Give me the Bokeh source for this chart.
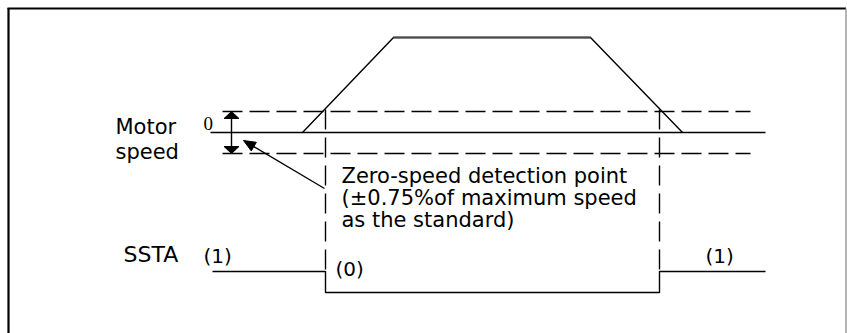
import math
from bokeh.plotting import figure
from bokeh.models import Range1d
from bokeh.core.properties import value
from bokeh.embed import file_html
from bokeh.resources import INLINE

# ---- diagram data (time axis -> x, level -> y, in page pixels) ----
speed_t = [302, 393, 590, 682]          # motor speed trapezoid
speed_v = [132, 37, 37, 132]
zero_x = [210, 765]                     # zero-speed solid line
zero_level = 132
band_x = [222, 750]                     # +/- detection band (dashed)
band_upper = 111
band_lower = 153
detect_t = [325, 659]                   # detection instants (dashed verticals)
detect_y = [109, 271]
ssta_t = [212, 325, 325, 659, 659, 765] # SSTA signal
ssta_v = [271, 271, 292, 292, 271, 271]
band_arrow_x = 231
pointer_tip = (243, 140)
pointer_tail = (324, 188)

big_text = ["Motor", "speed", "SSTA"]
big_x = [115, 115, 123]
big_y = [126, 151, 254]
paren_text = ["(1)", "(0)", "(1)"]
paren_x = [203, 335, 705]
paren_y = [255, 268, 255]
note_text = ["Zero-speed detection point", "(±0.75%of maximum speed", "as the standard)"]
note_x = [341, 341, 341]
note_y = [175, 197, 219]
zero_label = ["0"]
zero_label_x = [203]
zero_label_y = [123]

W, H = 847, 333
p = figure(width=W, height=H, x_range=Range1d(0, W), y_range=Range1d(H, 0),
           output_backend="svg", toolbar_location=None,
           x_axis_type=None, y_axis_type=None, min_border=0)
p.outline_line_color = None
p.grid.visible = False
p.background_fill_color = "white"
p.border_fill_color = "white"

# frame
p.line([8, 8], [H, 7.5], line_color="black", line_width=2.2)
p.line([7, 845.5], [8, 8], line_color="black", line_width=2.2)
p.line([845.5, 845.5], [8, H], line_color="#9a9a9a", line_width=1.5)

LW = 1.4
# zero line
p.line(zero_x, [zero_level, zero_level], line_color="black", line_width=LW)
# dashed band
for lvl in (band_upper, band_lower):
    p.line(band_x, [lvl, lvl], line_color="black", line_width=LW, line_dash="20 7")
# dashed verticals
for t in detect_t:
    p.line([t, t], detect_y, line_color="black", line_width=LW, line_dash="20 8")
# speed trapezoid
p.line(speed_t, speed_v, line_color="black", line_width=LW)
p.line(speed_t[1:3], speed_v[1:3], line_color="#4a4a4a", line_width=2.2)
# SSTA
p.line(ssta_t, ssta_v, line_color="black", line_width=LW)


def head(tip, tail, length, width):
    dx, dy = tail[0] - tip[0], tail[1] - tip[1]
    d = math.hypot(dx, dy)
    ux, uy = dx / d, dy / d
    bx, by = tip[0] + ux * length, tip[1] + uy * length
    px, py = -uy * width / 2, ux * width / 2
    return [tip[0], bx + px, bx - px], [tip[1], by + py, by - py], (bx, by)

# double arrow across the band
top_tip = (band_arrow_x, band_upper)
bot_tip = (band_arrow_x, band_lower)
hx1, hy1, b1 = head(top_tip, bot_tip, 7, 15)
hx2, hy2, b2 = head(bot_tip, top_tip, 7, 15)
p.line([b1[0], b2[0]], [b1[1], b2[1]], line_color="black", line_width=LW)
p.patches([hx1, hx2], [hy1, hy2], fill_color="black", line_color="black", line_width=1)

# pointer arrow
hx3, hy3, b3 = head(pointer_tip, pointer_tail, 12, 10)
p.line([b3[0], pointer_tail[0]], [b3[1], pointer_tail[1]], line_color="black", line_width=LW)
p.patch(hx3, hy3, fill_color="black", line_color="black", line_width=1)

# texts
FONT = value("DejaVu Sans")
p.text(x=big_x[:2], y=big_y[:2], text=big_text[:2], text_font=FONT,
       text_font_size="21px", text_color="black", text_align="left", text_baseline="alphabetic")
p.text(x=big_x[2:], y=big_y[2:], text=big_text[2:], text_font=FONT,
       text_font_size="22px", text_color="black", text_align="left", text_baseline="alphabetic")
p.text(x=paren_x, y=paren_y, text=paren_text, text_font=FONT,
       text_font_size="20px", text_color="black", text_align="left", text_baseline="alphabetic")
p.text(x=note_x, y=note_y, text=note_text, text_font=FONT,
       text_font_size="21px", text_color="black", text_align="left", text_baseline="alphabetic")
p.text(x=zero_label_x, y=zero_label_y, text=zero_label, text_font=value("Liberation Serif"),
       text_font_size="19px", text_color="black", text_align="left", text_baseline="alphabetic")

open("out.html", "w").write(file_html(p, INLINE))
